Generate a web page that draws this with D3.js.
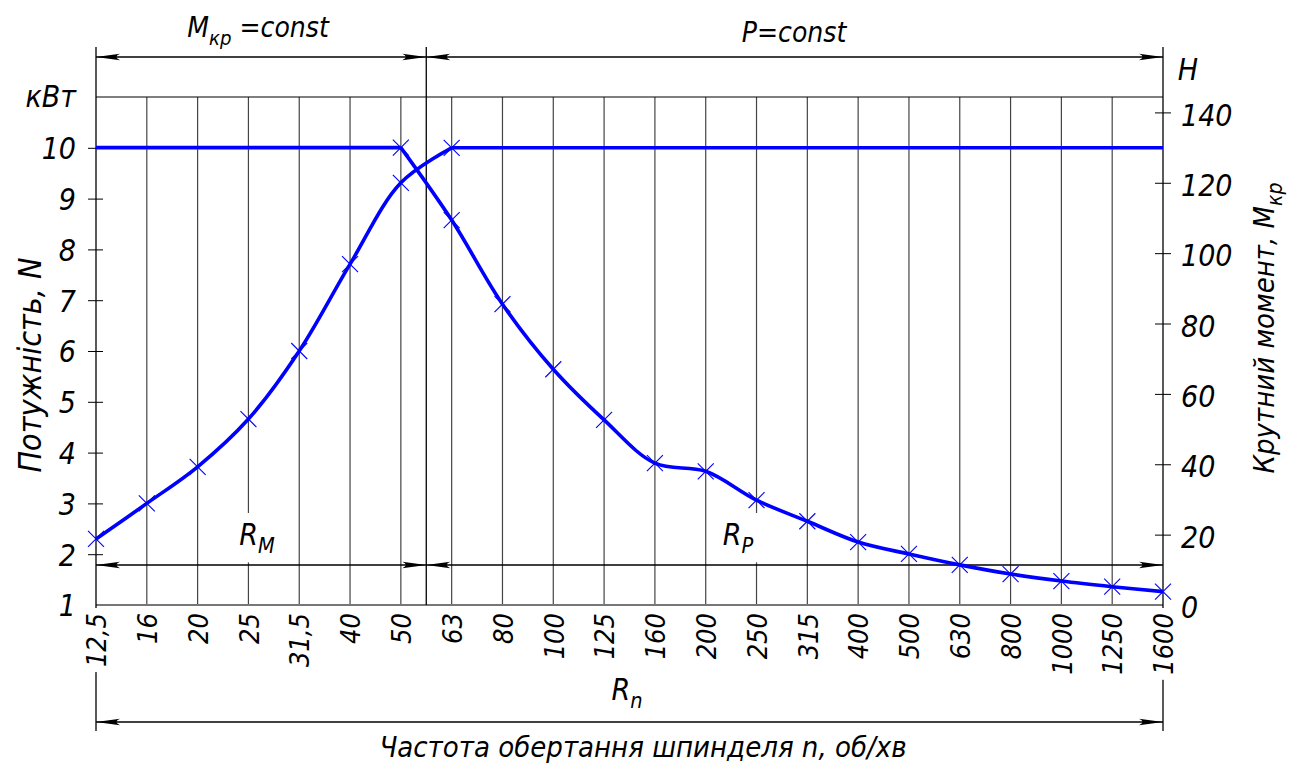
<!DOCTYPE html>
<html>
<head>
<meta charset="utf-8">
<script src="https://cdn.jsdelivr.net/npm/d3@7/dist/d3.min.js"></script>
<style>
  body { margin: 0; background: #fff; }
  svg text {
    font-family: "Liberation Sans Narrow", "DejaVu Sans Condensed", sans-serif;
    font-style: italic;
    fill: #000;
  }
</style>
</head>
<body>
<svg id="chart" width="1295" height="767"></svg>
<script>
// spindle speeds, rpm (tick labels as printed)
const speeds = ['12,5', '16', '20', '25', '31,5', '40', '50', '63', '80', '100', '125',
                '160', '200', '250', '315', '400', '500', '630', '800', '1000', '1250', '1600'];
// power N, kW
const power = [2.3, 3.0, 3.72, 4.66, 6.0, 7.71, 9.31, 10, 10, 10, 10,
               10, 10, 10, 10, 10, 10, 10, 10, 10, 10, 10];
// torque M_kr, N·m
const torque = [130, 130, 130, 130, 130, 130, 130, 109.4, 85.5, 67, 52.6,
                40.3, 38, 29.8, 23.8, 17.9, 14.5, 11.4, 8.8, 6.8, 5.2, 3.8];
const powerTicks = [1, 2, 3, 4, 5, 6, 7, 8, 9, 10, 11];
const torqueTicks = [0, 20, 40, 60, 80, 100, 120, 140];

const svg = d3.select('#chart');
const pLeft = 96, pRight = 1163, pTop = 97, pBottom = 605;

const x = d3.scalePoint().domain(speeds).range([pLeft, pRight]);
const yN = d3.scaleLinear().domain([1, 11]).range([pBottom, pTop]);
const yM = d3.scaleLinear().domain([0, 140]).range([pBottom, 112.4]);

const sep = (x('50') + x('63')) / 2;

// grid
const grid = svg.append('g');
grid.selectAll('line.v')
  .data(speeds.slice(1, -1))
  .enter().append('line')
  .attr('x1', d => x(d)).attr('x2', d => x(d))
  .attr('y1', pTop).attr('y2', pBottom)
  .attr('stroke', '#444').attr('stroke-width', 1.2);
grid.append('line')
  .attr('x1', pLeft).attr('x2', pRight).attr('y1', pTop).attr('y2', pTop)
  .attr('stroke', '#000').attr('stroke-width', 1.2);
grid.append('line')
  .attr('x1', pLeft).attr('x2', pRight).attr('y1', pBottom).attr('y2', pBottom)
  .attr('stroke', '#777').attr('stroke-width', 2.2);

// frame & extension lines
const frame = svg.append('g').attr('stroke', '#000').attr('stroke-width', 1.3);
frame.append('line').attr('x1', pLeft).attr('x2', pLeft).attr('y1', 47).attr('y2', 731);
frame.append('line').attr('x1', pRight).attr('x2', pRight).attr('y1', 47).attr('y2', 731);
frame.append('line').attr('x1', sep).attr('x2', sep).attr('y1', 47).attr('y2', pBottom);

// dimension lines with arrows
function arrow(g, xt, y, dir) {
  const L = 24, w = 3.2;
  g.append('path')
    .attr('d', `M${xt},${y} L${xt - dir * L},${y - w} Q${xt - dir * L * 0.7},${y} ${xt - dir * L},${y + w} Z`)
    .attr('fill', '#000');
}
function dimLine(y, pts) {
  const g = svg.append('g');
  g.append('line').attr('x1', pLeft).attr('x2', pRight).attr('y1', y).attr('y2', y)
    .attr('stroke', '#000').attr('stroke-width', 1.3);
  pts.forEach(p => arrow(g, p[0], y, p[1]));
}
dimLine(57, [[pLeft, -1], [sep, 1], [sep, -1], [pRight, 1]]);
dimLine(565, [[pLeft, -1], [sep, 1], [sep, -1], [pRight, 1]]);
dimLine(722, [[pLeft, -1], [pRight, 1]]);

// left axis (power)
const axL = svg.append('g')
  .attr('transform', `translate(${pLeft},0)`)
  .call(d3.axisLeft(yN).tickValues(powerTicks).tickSize(8).tickPadding(12)
    .tickFormat(d => d === 11 ? 'кВт' : d));
axL.select('.domain').remove();
axL.selectAll('.tick line').attr('x1', 7).attr('stroke', '#000')
  .filter(d => d === 1 || d === 11).remove();
axL.selectAll('.tick text')
  .attr('font-size', 30).attr('font-family', null).attr('dy', '0.36em');
axL.selectAll('.tick').filter(d => d === 11).select('text').attr('dy', '0.3em');

// right axis (torque)
const axR = svg.append('g')
  .attr('transform', `translate(${pRight},0)`)
  .call(d3.axisRight(yM).tickValues(torqueTicks).tickSize(8).tickPadding(10));
axR.select('.domain').remove();
axR.selectAll('.tick line').attr('x1', -8).attr('stroke', '#000')
  .filter(d => d === 0).remove();
axR.selectAll('.tick text')
  .attr('font-size', 30).attr('font-family', null).attr('dy', '0.42em');

// bottom axis (speeds), rotated labels on white ground
const axB = svg.append('g')
  .attr('transform', `translate(0,${pBottom})`)
  .call(d3.axisBottom(x).tickSize(0).tickPadding(0));
axB.select('.domain').remove();
axB.selectAll('.tick text')
  .attr('font-size', 27).attr('font-family', null)
  .attr('text-anchor', 'end')
  .attr('transform', 'rotate(-90)')
  .attr('x', -8).attr('y', 0).attr('dy', '0.36em');
axB.selectAll('.tick').each(function () {
  const t = d3.select(this).select('text');
  const b = t.node().getBBox();
  d3.select(this).insert('rect', 'text')
    .attr('transform', 'rotate(-90)')
    .attr('x', b.x - 5).attr('y', b.y - 1)
    .attr('width', b.width + 10).attr('height', b.height + 2)
    .attr('fill', '#fff');
});

// curves
const idx = d3.range(speeds.length);
const pMax = d3.max(power), mMax = d3.max(torque);
const pEnd = power.indexOf(pMax);
const mStart = torque.lastIndexOf(mMax);

const curveN = d3.line().x(i => x(speeds[i])).y(i => yN(power[i])).curve(d3.curveCatmullRom.alpha(0.5));
const flatN = d3.line().x(i => x(speeds[i])).y(i => yN(power[i]));
const curveM = d3.line().x(i => x(speeds[i])).y(i => yM(torque[i])).curve(d3.curveCatmullRom.alpha(0.5));
const flatM = d3.line().x(i => x(speeds[i])).y(i => yM(torque[i]));

const blue = '#0000ff';
const lines = svg.append('g').attr('fill', 'none').attr('stroke', blue)
  .attr('stroke-width', 3.6).attr('stroke-linejoin', 'round');
lines.append('path').attr('d', curveN(idx.filter(i => i <= pEnd)));
lines.append('path').attr('d', flatN(idx.filter(i => i >= pEnd)));
lines.append('path').attr('d', flatM(idx.filter(i => i <= mStart)));
lines.append('path').attr('d', curveM(idx.filter(i => i >= mStart)));

// cross markers
const cs = 8;
function crosses(pts) {
  svg.append('g').selectAll('path')
    .data(pts).enter().append('path')
    .attr('d', p => `M${p[0] - cs},${p[1] - cs}L${p[0] + cs},${p[1] + cs}M${p[0] - cs},${p[1] + cs}L${p[0] + cs},${p[1] - cs}`)
    .attr('stroke', blue).attr('stroke-width', 1.1).attr('fill', 'none');
}
crosses(idx.filter(i => i <= pEnd).map(i => [x(speeds[i]), yN(power[i])]));
crosses(idx.filter(i => i >= mStart).map(i => [x(speeds[i]), yM(torque[i])]));

// labels
function label(xc, y, main, sub, tail, size, bg) {
  const t = svg.append('text').attr('x', xc).attr('y', y)
    .attr('text-anchor', 'middle').attr('font-size', size);
  t.append('tspan').text(main);
  if (sub) t.append('tspan').attr('font-size', size * 0.72).attr('dy', size * 0.28).text(sub);
  if (tail) t.append('tspan').attr('dy', sub ? -size * 0.28 : 0).text(tail);
  if (bg) {
    const b = t.node().getBBox();
    svg.insert('rect', function () { return t.node(); })
      .attr('x', b.x - 8).attr('y', b.y - 4).attr('width', b.width + 16).attr('height', b.height + 8)
      .attr('fill', '#fff');
  }
  return t;
}
label(258, 37, 'М', 'кр', ' =const', 28);
label(794, 42, 'P=const', null, null, 28);
label(257, 545, 'R', 'M', null, 30, true);
label(738, 545, 'R', 'P', null, 30, true);
label(627, 700, 'R', 'n', null, 30);
label(1188, 80, 'Н', null, null, 30);
label(643, 757, 'Частота обертання шпинделя n, об/хв', null, null, 29);

svg.append('text')
  .attr('transform', 'translate(41,365) rotate(-90)')
  .attr('text-anchor', 'middle').attr('font-size', 32)
  .text('Потужність, N');
const rt = svg.append('text')
  .attr('transform', 'translate(1274,328) rotate(-90)')
  .attr('text-anchor', 'middle').attr('font-size', 29);
rt.append('tspan').text('Крутний момент, М');
rt.append('tspan').attr('font-size', 21).attr('dy', 8).text('кр');
</script>
</body>
</html>
